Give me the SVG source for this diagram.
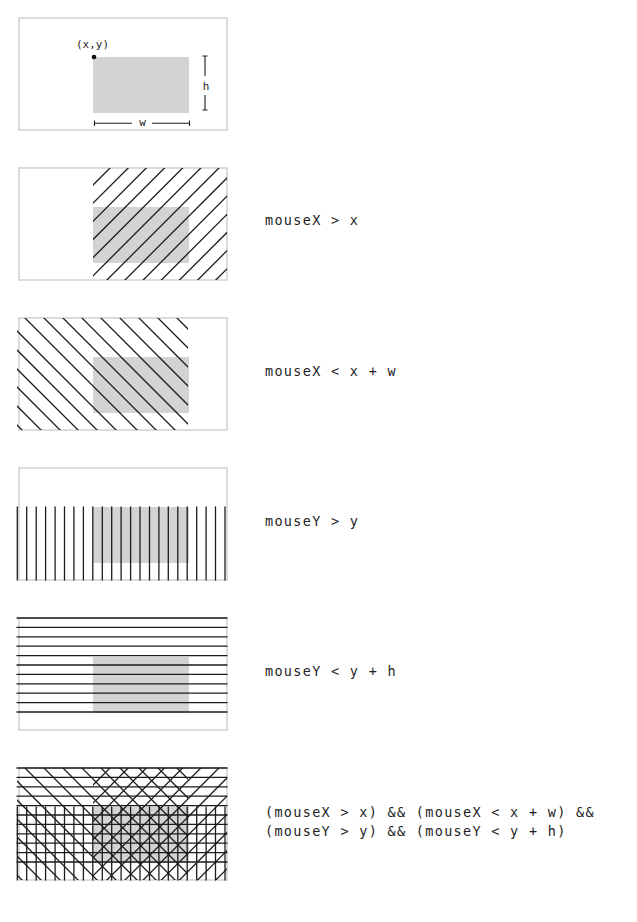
<svg xmlns="http://www.w3.org/2000/svg" xmlns:xlink="http://www.w3.org/1999/xlink" width="637" height="922" viewBox="0 0 637 922">
<style>
.frame{fill:#fff;stroke:#c9c9c9;stroke-width:1.3}
.box{fill:#d1d3d4}
.h line{stroke:#1c1c1c;stroke-width:1.3;stroke-linecap:round}
.mk{stroke:#1c1c1c;stroke-width:1.1;fill:none}
.t{font-family:"DejaVu Sans Mono","Liberation Mono",monospace;font-size:13.5px;letter-spacing:1.3px;fill:#1e1e1e}
.s{font-family:"DejaVu Sans Mono","Liberation Mono",monospace;font-size:11px;fill:#1e1e1e}
</style>
<defs>
<clipPath id="cR"><rect x="93" y="18" width="134" height="112"/></clipPath>
<clipPath id="cL"><rect x="17" y="18" width="171" height="112"/></clipPath>
<g id="hatchR" class="h">
<line x1="-7" y1="135" x2="115" y2="13"/>
<line x1="11.2" y1="135" x2="133.2" y2="13"/>
<line x1="29.3" y1="135" x2="151.3" y2="13"/>
<line x1="47.5" y1="135" x2="169.5" y2="13"/>
<line x1="65.6" y1="135" x2="187.6" y2="13"/>
<line x1="83.8" y1="135" x2="205.8" y2="13"/>
<line x1="101.9" y1="135" x2="223.9" y2="13"/>
<line x1="120" y1="135" x2="242" y2="13"/>
<line x1="138.2" y1="135" x2="260.2" y2="13"/>
<line x1="156.4" y1="135" x2="278.4" y2="13"/>
<line x1="174.5" y1="135" x2="296.5" y2="13"/>
<line x1="192.7" y1="135" x2="314.7" y2="13"/>
<line x1="210.8" y1="135" x2="332.8" y2="13"/>
</g>
<g id="hatchL" class="h">
<line x1="172" y1="13" x2="294" y2="135"/>
<line x1="153" y1="13" x2="275" y2="135"/>
<line x1="134" y1="13" x2="256" y2="135"/>
<line x1="115" y1="13" x2="237" y2="135"/>
<line x1="96" y1="13" x2="218" y2="135"/>
<line x1="77" y1="13" x2="199" y2="135"/>
<line x1="58" y1="13" x2="180" y2="135"/>
<line x1="39" y1="13" x2="161" y2="135"/>
<line x1="20" y1="13" x2="142" y2="135"/>
<line x1="-1" y1="13" x2="121" y2="135"/>
<line x1="-20" y1="13" x2="102" y2="135"/>
<line x1="-39" y1="13" x2="83" y2="135"/>
<line x1="-57" y1="13" x2="65" y2="135"/>
<line x1="-76" y1="13" x2="46" y2="135"/>
<line x1="-95" y1="13" x2="27" y2="135"/>
</g>
<g id="hatchV" class="h">
<line x1="17.3" y1="57" x2="17.3" y2="130"/>
<line x1="26.7" y1="57" x2="26.7" y2="130"/>
<line x1="36.2" y1="57" x2="36.2" y2="130"/>
<line x1="45.6" y1="57" x2="45.6" y2="130"/>
<line x1="55.1" y1="57" x2="55.1" y2="130"/>
<line x1="64.5" y1="57" x2="64.5" y2="130"/>
<line x1="73.9" y1="57" x2="73.9" y2="130"/>
<line x1="83.4" y1="57" x2="83.4" y2="130"/>
<line x1="92.8" y1="57" x2="92.8" y2="130"/>
<line x1="102.3" y1="57" x2="102.3" y2="130"/>
<line x1="111.7" y1="57" x2="111.7" y2="130"/>
<line x1="121.1" y1="57" x2="121.1" y2="130"/>
<line x1="130.6" y1="57" x2="130.6" y2="130"/>
<line x1="140" y1="57" x2="140" y2="130"/>
<line x1="149.5" y1="57" x2="149.5" y2="130"/>
<line x1="158.9" y1="57" x2="158.9" y2="130"/>
<line x1="168.3" y1="57" x2="168.3" y2="130"/>
<line x1="177.8" y1="57" x2="177.8" y2="130"/>
<line x1="187.2" y1="57" x2="187.2" y2="130"/>
<line x1="196.7" y1="57" x2="196.7" y2="130"/>
<line x1="206.1" y1="57" x2="206.1" y2="130"/>
<line x1="215.5" y1="57" x2="215.5" y2="130"/>
<line x1="225" y1="57" x2="225" y2="130"/>
</g>
<g id="hatchH" class="h">
<line x1="17" y1="18" x2="227" y2="18"/>
<line x1="17" y1="27.4" x2="227" y2="27.4"/>
<line x1="17" y1="36.8" x2="227" y2="36.8"/>
<line x1="17" y1="46.2" x2="227" y2="46.2"/>
<line x1="17" y1="55.6" x2="227" y2="55.6"/>
<line x1="17" y1="65" x2="227" y2="65"/>
<line x1="17" y1="74.4" x2="227" y2="74.4"/>
<line x1="17" y1="83.8" x2="227" y2="83.8"/>
<line x1="17" y1="93.2" x2="227" y2="93.2"/>
<line x1="17" y1="102.6" x2="227" y2="102.6"/>
<line x1="17" y1="112" x2="227" y2="112"/>
</g>
</defs>

<g id="panel-1">
<rect class="frame" x="19" y="18" width="208" height="112"/>
<rect class="box" x="93" y="57" width="96" height="56"/>
<circle cx="94" cy="57" r="2.3" fill="#111"/>
<text class="s" x="76" y="48">(x,y)</text>
<path class="mk" d="M205 56V76M202.5 56H207.5M205 95V110M202.5 110H207.5M94.5 120.5V126M94.5 123.3H132M152 123.3H189.5M189.5 120.5V126"/>
<text class="s" x="206" y="90" text-anchor="middle">h</text>
<text class="s" x="142.5" y="126" text-anchor="middle">w</text>
</g>

<g id="panel-2" transform="translate(0,150)">
<rect class="frame" x="19" y="18" width="208" height="112"/>
<rect class="box" x="93" y="57" width="96" height="56"/>
<use xlink:href="#hatchR" clip-path="url(#cR)"/>
<text class="t" x="265" y="74.5">mouseX &gt; x</text>
</g>

<g id="panel-3" transform="translate(0,300)">
<rect class="frame" x="19" y="18" width="208" height="112"/>
<rect class="box" x="93" y="57" width="96" height="56"/>
<use xlink:href="#hatchL" clip-path="url(#cL)"/>
<text class="t" x="265" y="75.5">mouseX &lt; x + w</text>
</g>

<g id="panel-4" transform="translate(0,450)">
<rect class="frame" x="19" y="18" width="208" height="112"/>
<rect class="box" x="93" y="57" width="96" height="56"/>
<use xlink:href="#hatchV"/>
<text class="t" x="265" y="75.5">mouseY &gt; y</text>
</g>

<g id="panel-5" transform="translate(0,600)">
<rect class="frame" x="19" y="18" width="208" height="112"/>
<rect class="box" x="93" y="57" width="96" height="56"/>
<use xlink:href="#hatchH"/>
<text class="t" x="265" y="75.5">mouseY &lt; y + h</text>
</g>

<g id="panel-6" transform="translate(0,750)">
<rect class="frame" x="19" y="18" width="208" height="112"/>
<rect class="box" x="93" y="57" width="96" height="56"/>
<use xlink:href="#hatchR" clip-path="url(#cR)"/>
<use xlink:href="#hatchL" clip-path="url(#cL)"/>
<use xlink:href="#hatchV"/>
<use xlink:href="#hatchH"/>
<text class="t" x="265" y="66.5">(mouseX &gt; x) &amp;&amp; (mouseX &lt; x + w) &amp;&amp;</text>
<text class="t" x="265" y="86">(mouseY &gt; y) &amp;&amp; (mouseY &lt; y + h)</text>
</g>
</svg>
